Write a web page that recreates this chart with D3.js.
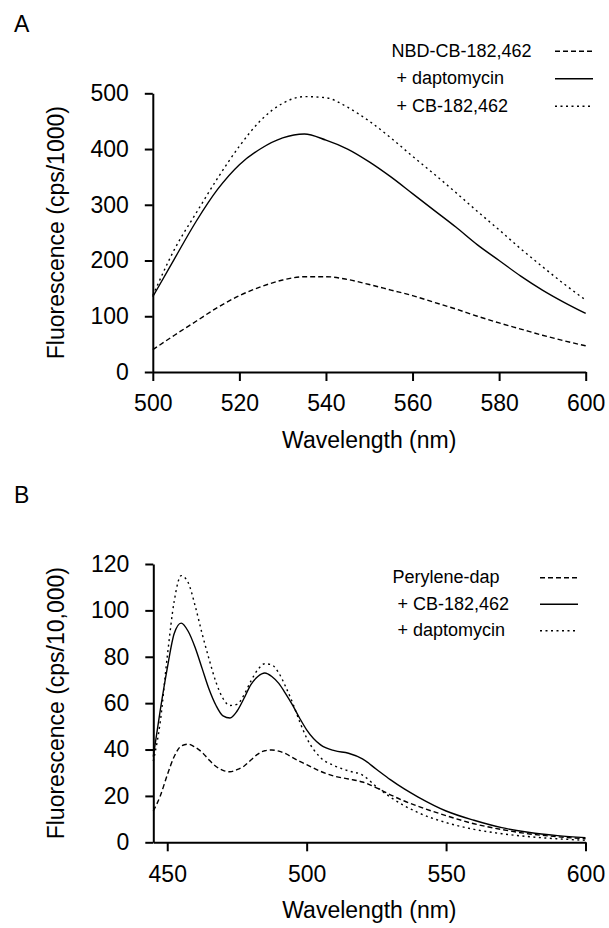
<!DOCTYPE html>
<html>
<head>
<meta charset="utf-8">
<script src="https://cdn.jsdelivr.net/npm/d3@7.9.0/dist/d3.min.js"></script>
<style>
  body { margin: 0; background: #fff; }
  svg { display: block; font-family: "Liberation Sans", Arial, Helvetica, sans-serif; }
  text { white-space: pre; }
</style>
</head>
<body>
<svg id="chart" width="609" height="928"></svg>
<script>
// ---- panel A data (NBD-CB-182,462) ----
const wavelengthA = [500, 505, 510, 515, 520, 525, 530, 535, 540, 545, 550,
                     555, 560, 565, 570, 575, 580, 585, 590, 595, 600];
const nbdAlone = [40, 66, 91, 116, 137, 153, 165, 171, 171, 166, 157,
                  147, 137, 125, 113, 100, 88, 77, 66, 56, 47];
const nbdPlusDapto = [135, 203, 270, 328, 372, 401, 420, 427, 416, 400, 377,
                      350, 320, 290, 260, 228, 200, 172, 147, 125, 105];
const nbdPlusCB = [137, 220, 285, 348, 405, 452, 482, 494, 492, 475, 450,
                   420, 387, 355, 322, 288, 255, 221, 189, 158, 129];
const legendA = ["NBD-CB-182,462", " + daptomycin", " + CB-182,462"];
const yTicksA = [0, 100, 200, 300, 400, 500];
const xTicksA = [500, 520, 540, 560, 580, 600];

// ---- panel B data (Perylene-dap) ----
const wavelengthB = [445, 447.5, 450, 452.5, 455, 457.5, 460, 462.5, 465, 467.5,
                     470, 472.5, 475, 477.5, 480, 482.5, 485, 487.5, 490, 492.5,
                     495, 497.5, 500, 505, 510, 515, 520, 525, 530, 535,
                     540, 550, 560, 570, 580, 590, 600];
const peryAlone = [13.5, 20, 29, 37, 41.5, 42.3, 41, 38.8, 35.5, 32.7,
                   31, 30.4, 31.3, 32.8, 35.5, 38, 39.5, 39.8, 39.3, 38.2,
                   36.5, 34.9, 33.5, 30.6, 28.5, 27.3, 26, 23.5, 20.5, 17.8,
                   15.5, 11.5, 8, 5.5, 3.6, 2.4, 1.5];
const peryPlusCB = [37, 57, 75, 90, 94.5, 91, 84, 75, 66, 59,
                    54.5, 53.6, 56.5, 62, 68, 71.5, 73, 71.5, 68.5, 64,
                    59, 53.5, 48.5, 42, 39.5, 38.4, 36, 31.5, 27, 23,
                    19.5, 13.5, 9.5, 6.3, 4.2, 2.9, 2];
const peryPlusDapto = [35, 52, 80, 104, 115, 112, 102, 90, 79, 69,
                       62, 59, 59.5, 63.5, 69.5, 74.5, 77, 76.5, 73, 67,
                       60, 52, 45, 36.5, 33, 30.8, 29, 24, 19.5, 15.8,
                       12.8, 8.5, 5.6, 3.7, 2.4, 1.5, 0.9];
const legendB = ["Perylene-dap", " + CB-182,462", " + daptomycin"];
const yTicksB = [0, 20, 40, 60, 80, 100, 120];
const xTicksB = [450, 500, 550, 600];

// line styles: dashed, solid, dotted (same order as legends)
const dashes = ["5,3", null, "2,3.5"];

const svg = d3.select('#chart');

function drawPanel(opt) {
  const x = d3.scaleLinear().domain(opt.xDomain).range([opt.left, opt.right]);
  const y = d3.scaleLinear().domain(opt.yDomain).range([opt.bottom, opt.top]);
  const g = svg.append('g');

  // axes
  const xAxis = d3.axisBottom(x).tickValues(opt.xTicks).tickSize(9).tickSizeOuter(0).tickPadding(14);
  const yAxis = d3.axisLeft(y).tickValues(opt.yTicks).tickSize(8).tickSizeOuter(0).tickPadding(16);

  const gx = g.append('g').attr('transform', `translate(0,${opt.bottom})`).call(xAxis);
  const gy = g.append('g').attr('transform', `translate(${opt.left},0)`).call(yAxis);
  [gx, gy].forEach(a => {
    a.selectAll('path, line').attr('stroke', '#000').attr('stroke-width', 2);
    a.selectAll('text').attr('font-size', 23).attr('fill', '#000')
      .attr('font-family', '"Liberation Sans", Arial, sans-serif');
  });

  // axis titles
  g.append('text')
    .attr('x', (opt.left + opt.right) / 2)
    .attr('y', opt.bottom + 76)
    .attr('text-anchor', 'middle')
    .attr('font-size', 23)
    .text('Wavelength (nm)');

  g.append('text')
    .attr('transform', `translate(64,${(opt.top + opt.bottom) / 2}) rotate(-90)`)
    .attr('text-anchor', 'middle')
    .attr('font-size', 23)
    .text(opt.yTitle);

  // panel letter
  g.append('text')
    .attr('x', 14).attr('y', opt.letterY)
    .attr('font-size', 23)
    .text(opt.letter);

  // curves
  const line = d3.line()
    .x((d, i) => x(opt.xs[i]))
    .y(d => y(d))
    .curve(d3.curveMonotoneX);

  opt.series.forEach((s, i) => {
    g.append('path')
      .attr('d', line(s))
      .attr('fill', 'none')
      .attr('stroke', '#000')
      .attr('stroke-width', 1.4)
      .attr('stroke-dasharray', dashes[i]);
  });

  // legend
  opt.legend.forEach((lab, i) => {
    g.append('text')
      .attr('x', opt.legX)
      .attr('y', opt.legY + i * opt.legStep)
      .attr('font-size', 18)
      .text(lab);
    g.append('line')
      .attr('x1', opt.legLineX[0]).attr('x2', opt.legLineX[1])
      .attr('y1', opt.legY - 5.5 + i * opt.legStep)
      .attr('y2', opt.legY - 5.5 + i * opt.legStep)
      .attr('stroke', '#000')
      .attr('stroke-width', 1.4)
      .attr('stroke-dasharray', dashes[i]);
  });
}

drawPanel({
  letter: 'A', letterY: 32,
  xDomain: [500, 600], yDomain: [0, 500],
  left: 152.8, right: 585.7, top: 93.3, bottom: 372,
  xTicks: xTicksA, yTicks: yTicksA,
  yTitle: 'Fluorescence (cps/1000)',
  xs: wavelengthA,
  series: [nbdAlone, nbdPlusDapto, nbdPlusCB],
  legend: legendA, legX: 391.5, legY: 56.7, legStep: 27.5, legLineX: [555, 593]
});

drawPanel({
  letter: 'B', letterY: 503,
  xDomain: [445, 600], yDomain: [0, 120],
  left: 153.3, right: 585.5, top: 564, bottom: 842.3,
  xTicks: xTicksB, yTicks: yTicksB,
  yTitle: 'Fluorescence (cps/10,000)',
  xs: wavelengthB,
  series: [peryAlone, peryPlusCB, peryPlusDapto],
  legend: legendB, legX: 392.5, legY: 583.3, legStep: 26.5, legLineX: [540, 578]
});
</script>
</body>
</html>
